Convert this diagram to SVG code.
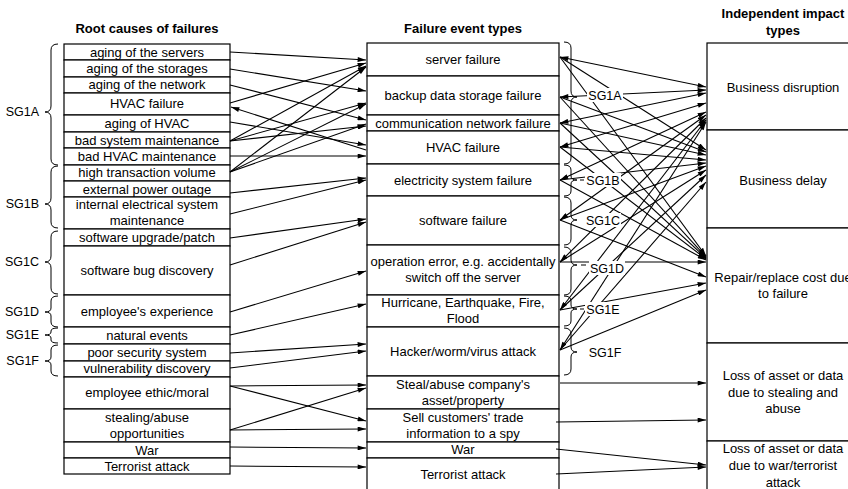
<svg xmlns="http://www.w3.org/2000/svg" width="848" height="489" viewBox="0 0 848 489">
  <style>
    text { font-family: "Liberation Sans", Arial, sans-serif; font-size: 13px; fill: #000; text-anchor: middle; }
    .title { font-weight: bold; }
    .sg { font-size: 12.5px; }
    .sgl { font-size: 12.5px; text-anchor: end; }
    .box { fill: #fff; stroke: #000; stroke-width: 1.2; }
    .brace { fill: none; stroke: #000; stroke-width: 1; }
    .conn line { stroke: #000; stroke-width: 1.1; }
    .arr { marker-end: url(#ah); }
    .both { marker-start: url(#ah); marker-end: url(#ah); }
    .lbg { fill: #fff; }
  </style>
  <defs>
    <marker id="ah" viewBox="0 0 10 6" refX="10" refY="3" markerWidth="9" markerHeight="5" markerUnits="userSpaceOnUse" orient="auto-start-reverse">
      <path d="M0,0 L10,3 L0,6 z" fill="#000"/>
    </marker>
  </defs>
  <rect width="848" height="489" fill="#fff"/>

  <!-- column headings -->
  <text class="title" x="147" y="33">Root causes of failures</text>
  <text class="title" x="463" y="33">Failure event types</text>
  <text class="title" x="783" y="18">Independent impact</text>
  <text class="title" x="783" y="35">types</text>

  <!-- root causes -->
  <g id="rc-servers"><rect class="box" x="64" y="44" width="166" height="16"/><text x="147" y="57">aging of the servers</text></g>
  <g id="rc-storages"><rect class="box" x="64" y="60" width="166" height="17"/><text x="147" y="73">aging of the storages</text></g>
  <g id="rc-network"><rect class="box" x="64" y="77" width="166" height="16"/><text x="147" y="89">aging of the network</text></g>
  <g id="rc-hvac-failure"><rect class="box" x="64" y="93" width="166" height="22"/><text x="147" y="108">HVAC failure</text></g>
  <g id="rc-aging-hvac"><rect class="box" x="64" y="115" width="166" height="17"/><text x="147" y="128">aging of HVAC</text></g>
  <g id="rc-bad-sys"><rect class="box" x="64" y="132" width="166" height="16"/><text x="147" y="145">bad system maintenance</text></g>
  <g id="rc-bad-hvac"><rect class="box" x="64" y="148" width="166" height="17"/><text x="147" y="161">bad HVAC maintenance</text></g>
  <g id="rc-transaction"><rect class="box" x="64" y="165" width="166" height="16"/><text x="147" y="177">high transaction volume</text></g>
  <g id="rc-ext-power"><rect class="box" x="64" y="181" width="166" height="16"/><text x="147" y="194">external power outage</text></g>
  <g id="rc-int-elec"><rect class="box" x="64" y="197" width="166" height="32"/><text x="147" y="209">internal electrical system</text><text x="147" y="225">maintenance</text></g>
  <g id="rc-sw-upgrade"><rect class="box" x="64" y="229" width="166" height="17"/><text x="147" y="242">software upgrade/patch</text></g>
  <g id="rc-sw-bug"><rect class="box" x="64" y="246" width="166" height="49"/><text x="147" y="275">software bug discovery</text></g>
  <g id="rc-experience"><rect class="box" x="64" y="295" width="166" height="32"/><text x="147" y="316">employee's experience</text></g>
  <g id="rc-natural"><rect class="box" x="64" y="327" width="166" height="17"/><text x="147" y="340">natural events</text></g>
  <g id="rc-security"><rect class="box" x="64" y="344" width="166" height="17"/><text x="147" y="357">poor security system</text></g>
  <g id="rc-vulnerability"><rect class="box" x="64" y="361" width="166" height="16"/><text x="147" y="373">vulnerability discovery</text></g>
  <g id="rc-ethic"><rect class="box" x="64" y="377" width="166" height="32"/><text x="147" y="397">employee ethic/moral</text></g>
  <g id="rc-stealing"><rect class="box" x="64" y="409" width="166" height="33"/><text x="147" y="422">stealing/abuse</text><text x="147" y="438">opportunities</text></g>
  <g id="rc-war"><rect class="box" x="64" y="442" width="166" height="16"/><text x="147" y="455">War</text></g>
  <g id="rc-terrorist"><rect class="box" x="64" y="458" width="166" height="16"/><text x="147" y="471">Terrorist attack</text></g>

  <!-- failure events -->
  <g id="ev-server"><rect class="box" x="367" y="43" width="192" height="33"/><text x="463" y="64">server failure</text></g>
  <g id="ev-backup"><rect class="box" x="367" y="76" width="192" height="39"/><text x="463" y="100">backup data storage failure</text></g>
  <g id="ev-comm"><rect class="box" x="367" y="115" width="192" height="16"/><text x="463" y="128">communication network failure</text></g>
  <g id="ev-hvac"><rect class="box" x="367" y="131" width="192" height="33"/><text x="463" y="152">HVAC failure</text></g>
  <g id="ev-elec"><rect class="box" x="367" y="164" width="192" height="32"/><text x="463" y="185">electricity system failure</text></g>
  <g id="ev-software"><rect class="box" x="367" y="196" width="192" height="49"/><text x="463" y="225">software failure</text></g>
  <g id="ev-operation"><rect class="box" x="367" y="245" width="192" height="50"/><text x="463" y="266">operation error, e.g. accidentally</text><text x="463" y="282">switch off the server</text></g>
  <g id="ev-natural"><rect class="box" x="367" y="295" width="192" height="32"/><text x="463" y="307">Hurricane, Earthquake, Fire,</text><text x="463" y="323">Flood</text></g>
  <g id="ev-hacker"><rect class="box" x="367" y="327" width="192" height="49"/><text x="463" y="356">Hacker/worm/virus attack</text></g>
  <g id="ev-steal"><rect class="box" x="367" y="376" width="192" height="33"/><text x="463" y="389">Steal/abuse company's</text><text x="463" y="405">asset/property</text></g>
  <g id="ev-sell"><rect class="box" x="367" y="409" width="192" height="33"/><text x="463" y="422">Sell customers' trade</text><text x="463" y="438">information to a spy</text></g>
  <g id="ev-war"><rect class="box" x="367" y="442" width="192" height="16"/><text x="463" y="454">War</text></g>
  <g id="ev-terrorist"><rect class="box" x="367" y="458" width="192" height="34"/><text x="463" y="479">Terrorist attack</text></g>

  <!-- impact types -->
  <g id="im-disruption"><rect class="box" x="707" y="43" width="160" height="87"/><text x="783" y="92">Business disruption</text></g>
  <g id="im-delay"><rect class="box" x="707" y="130" width="160" height="98"/><text x="783" y="185">Business delay</text></g>
  <g id="im-repair"><rect class="box" x="707" y="228" width="160" height="115"/><text x="783" y="282">Repair/replace cost due</text><text x="783" y="298">to failure</text></g>
  <g id="im-loss-steal"><rect class="box" x="707" y="343" width="160" height="98"/><text x="783" y="380">Loss of asset or data</text><text x="783" y="397">due to stealing and</text><text x="783" y="413">abuse</text></g>
  <g id="im-loss-war"><rect class="box" x="707" y="441" width="160" height="52"/><text x="783" y="453">Loss of asset or data</text><text x="783" y="470">due to war/terrorist</text><text x="783" y="487">attack</text></g>

  <!-- connectors -->
  <g id="connectors" class="conn">
    <!-- root causes to failure events -->
    <line class="arr" x1="230" y1="52" x2="366" y2="60"/>
    <line class="arr" x1="230" y1="69" x2="366" y2="91"/>
    <line class="arr" x1="230" y1="85" x2="366" y2="120"/>
    <line class="arr" x1="230" y1="103" x2="366" y2="63"/>
    <line class="arr" x1="366" y1="150" x2="231" y2="107"/>
    <line class="arr" x1="230" y1="122" x2="366" y2="145"/>
    <line class="arr" x1="230" y1="141" x2="366" y2="66"/>
    <line class="arr" x1="230" y1="141" x2="366" y2="103"/>
    <line class="arr" x1="230" y1="141" x2="366" y2="126"/>
    <line class="arr" x1="230" y1="156" x2="366" y2="156"/>
    <line class="arr" x1="230" y1="172" x2="366" y2="67"/>
    <line class="arr" x1="230" y1="172" x2="366" y2="104"/>
    <line class="arr" x1="230" y1="172" x2="366" y2="124"/>
    <line class="arr" x1="230" y1="193" x2="366" y2="178"/>
    <line class="arr" x1="230" y1="214" x2="366" y2="180"/>
    <line class="arr" x1="230" y1="238" x2="366" y2="219"/>
    <line class="arr" x1="230" y1="265" x2="366" y2="222"/>
    <line class="arr" x1="230" y1="312" x2="366" y2="271"/>
    <line class="arr" x1="230" y1="335" x2="366" y2="304"/>
    <line class="arr" x1="230" y1="353" x2="366" y2="344"/>
    <line class="arr" x1="230" y1="368" x2="366" y2="351"/>
    <line class="arr" x1="230" y1="386" x2="366" y2="385"/>
    <line class="arr" x1="230" y1="386" x2="366" y2="421"/>
    <line class="arr" x1="230" y1="430" x2="366" y2="388"/>
    <line class="arr" x1="230" y1="430" x2="366" y2="429"/>
    <line class="arr" x1="230" y1="447" x2="366" y2="448"/>
    <line class="arr" x1="230" y1="466" x2="366" y2="467"/>

    <!-- failure events to impact types -->
    <line class="both" x1="560" y1="57" x2="706" y2="87"/>
    <line class="arr" x1="560" y1="57" x2="706" y2="150"/>
    <line class="arr" x1="560" y1="57" x2="706" y2="256"/>
    <line class="both" x1="560" y1="97" x2="706" y2="90"/>
    <line class="arr" x1="560" y1="97" x2="706" y2="152"/>
    <line class="arr" x1="560" y1="97" x2="706" y2="257"/>
    <line class="both" x1="560" y1="123" x2="706" y2="93"/>
    <line class="arr" x1="560" y1="123" x2="706" y2="155"/>
    <line class="arr" x1="560" y1="123" x2="706" y2="258"/>
    <line class="both" x1="560" y1="147" x2="706" y2="103"/>
    <line class="arr" x1="560" y1="147" x2="706" y2="160"/>
    <line class="arr" x1="560" y1="147" x2="706" y2="259"/>
    <line class="both" x1="560" y1="180" x2="706" y2="112"/>
    <line class="arr" x1="560" y1="180" x2="706" y2="163"/>
    <line class="arr" x1="560" y1="180" x2="706" y2="260"/>
    <line class="both" x1="560" y1="220" x2="706" y2="115"/>
    <line class="arr" x1="560" y1="220" x2="706" y2="166"/>
    <line class="arr" x1="560" y1="220" x2="706" y2="277"/>
    <line class="both" x1="560" y1="262" x2="706" y2="118"/>
    <line class="arr" x1="560" y1="262" x2="706" y2="170"/>
    <line class="arr" x1="560" y1="262" x2="706" y2="262"/>
    <line class="both" x1="560" y1="310" x2="706" y2="120"/>
    <line class="arr" x1="560" y1="310" x2="706" y2="175"/>
    <line class="arr" x1="560" y1="310" x2="706" y2="283"/>
    <line class="both" x1="560" y1="350" x2="706" y2="122"/>
    <line class="arr" x1="560" y1="350" x2="706" y2="182"/>
    <line class="arr" x1="560" y1="350" x2="706" y2="290"/>

    <line class="arr" x1="560" y1="383" x2="706" y2="383"/>
    <line class="arr" x1="556" y1="422" x2="706" y2="420"/>
    <line class="arr" x1="556" y1="449" x2="706" y2="465"/>
    <line class="arr" x1="556" y1="474" x2="706" y2="467"/>
  </g>

  <!-- group braces, left side -->
  <g id="groups-left">
    <path class="brace" d="M58,44 Q51,44 51,50 L51,106 Q51,112 45,112 Q51,112 51,118 L51,159 Q51,165 58,165"/>
    <text class="sgl" x="39" y="116">SG1A</text>
    <path class="brace" d="M58,166 Q51,166 51,172 L51,198 Q51,204 45,204 Q51,204 51,210 L51,222 Q51,228 58,228"/>
    <text class="sgl" x="39" y="208">SG1B</text>
    <path class="brace" d="M58,231 Q51,231 51,237 L51,256 Q51,262 45,262 Q51,262 51,268 L51,288 Q51,294 58,294"/>
    <text class="sgl" x="39" y="266">SG1C</text>
    <path class="brace" d="M58,296 Q51,296 51,301 L51,308 Q51,312 45,312 Q51,312 51,316 L51,322 Q51,327 58,327"/>
    <text class="sgl" x="39" y="316">SG1D</text>
    <path class="brace" d="M58,328 Q51,328 51,331 L51,332 Q51,335 45,335 Q51,335 51,338 L51,340 Q51,343 58,343"/>
    <text class="sgl" x="39" y="339">SG1E</text>
    <path class="brace" d="M58,345 Q51,345 51,350 L51,357 Q51,361 45,361 Q51,361 51,365 L51,371 Q51,376 58,376"/>
    <text class="sgl" x="39" y="365">SG1F</text>
  </g>

  <!-- group braces and labels, right side -->
  <g id="groups-right">
    <path class="brace" d="M564,42 Q571,42 571,48 L571,91 Q571,97 577,97 Q571,97 571,103 L571,158 Q571,164 564,164"/>
    <rect class="lbg" x="587" y="88" width="36" height="14"/>
    <text class="sg" x="605" y="100">SG1A</text>
    <path class="brace" d="M564,165 Q571,165 571,170 L571,176 Q571,180 577,180 Q571,180 571,184 L571,191 Q571,196 564,196"/>
    <line x1="580" y1="180" x2="584" y2="180" stroke="#000" stroke-width="1"/>
    <rect class="lbg" x="585" y="173" width="36" height="14"/>
    <text class="sg" x="603" y="185">SG1B</text>
    <path class="brace" d="M564,197 Q571,197 571,203 L571,215 Q571,220 577,220 Q571,220 571,225 L571,239 Q571,245 564,245"/>
    <rect class="lbg" x="585" y="213" width="36" height="14"/>
    <text class="sg" x="603" y="225">SG1C</text>
    <path class="brace" d="M564,247 Q571,247 571,253 L571,260 Q571,265 577,265 Q571,265 571,270 L571,289 Q571,295 564,295"/>
    <line x1="581" y1="265" x2="586" y2="265" stroke="#000" stroke-width="1"/>
    <rect class="lbg" x="589" y="261" width="36" height="14"/>
    <text class="sg" x="607" y="273">SG1D</text>
    <path class="brace" d="M564,296 Q571,296 571,301 L571,305 Q571,309 577,309 Q571,309 571,313 L571,321 Q571,326 564,326"/>
    <line x1="580" y1="309" x2="584" y2="309" stroke="#000" stroke-width="1"/>
    <rect class="lbg" x="585" y="302" width="36" height="14"/>
    <text class="sg" x="603" y="314">SG1E</text>
    <path class="brace" d="M564,328 Q571,328 571,334 L571,347 Q571,352 577,352 Q571,352 571,357 L571,369 Q571,375 564,375"/>
    <rect class="lbg" x="587" y="345" width="36" height="14"/>
    <text class="sg" x="605" y="357">SG1F</text>
  </g>
</svg>
